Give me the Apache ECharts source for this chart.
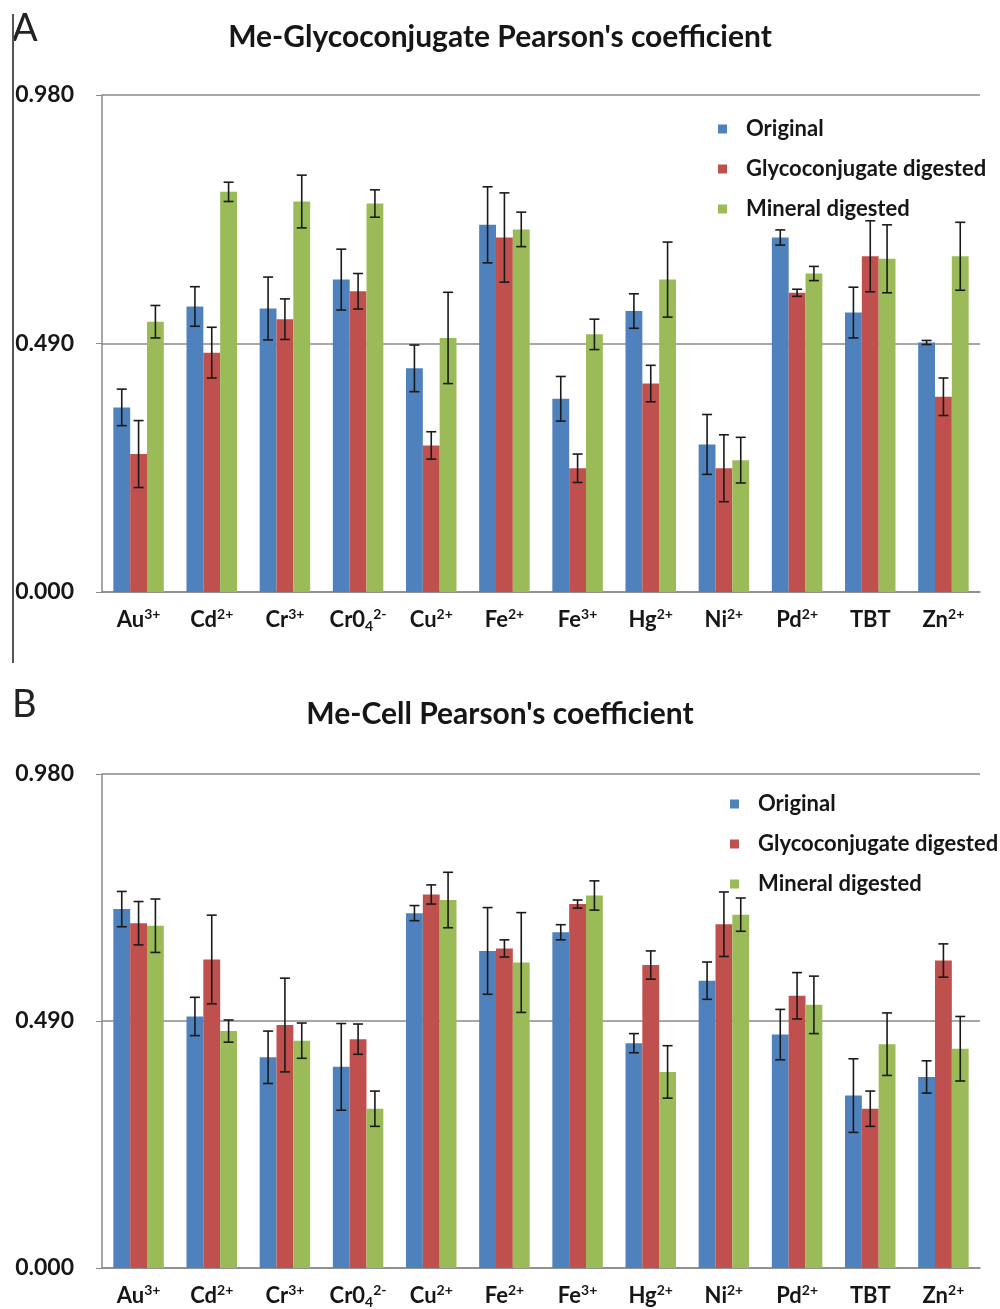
<!DOCTYPE html>
<html>
<head>
<meta charset="utf-8">
<script src="https://cdn.jsdelivr.net/npm/echarts@6/dist/echarts.min.js"></script>
<style>
  html, body { margin: 0; padding: 0; background: #fff; }
  #chart { width: 1000px; height: 1309px; }
</style>
</head>
<body>
<div id="chart"></div>
<script>
// base_sub^sup
const categories = ['Au^3+', 'Cd^2+', 'Cr^3+', 'Cr0_4^2-', 'Cu^2+', 'Fe^2+', 'Fe^3+', 'Hg^2+', 'Ni^2+', 'Pd^2+', 'TBT', 'Zn^2+'];
const seriesNames = ['Original', 'Glycoconjugate digested', 'Mineral digested'];
const yTicks = [0, 0.49, 0.98];

// panel A: Me-Glycoconjugate
const origA = [0.364, 0.563, 0.559, 0.616, 0.441, 0.724, 0.381, 0.554, 0.291, 0.699, 0.551, 0.492];
const origAErr = [0.036, 0.039, 0.062, 0.060, 0.046, 0.075, 0.044, 0.034, 0.059, 0.015, 0.050, 0.004];
const glycoA = [0.272, 0.472, 0.538, 0.593, 0.289, 0.699, 0.244, 0.411, 0.244, 0.590, 0.662, 0.385];
const glycoAErr = [0.066, 0.050, 0.040, 0.035, 0.027, 0.088, 0.028, 0.036, 0.066, 0.007, 0.070, 0.037];
const minA = [0.533, 0.789, 0.770, 0.766, 0.501, 0.715, 0.508, 0.616, 0.260, 0.628, 0.657, 0.662];
const minAErr = [0.032, 0.019, 0.052, 0.027, 0.090, 0.034, 0.030, 0.074, 0.045, 0.014, 0.067, 0.067];

// panel B: Me-Cell
const origB = [0.712, 0.499, 0.418, 0.399, 0.704, 0.629, 0.666, 0.446, 0.570, 0.463, 0.342, 0.379];
const origBErr = [0.035, 0.038, 0.052, 0.086, 0.015, 0.086, 0.015, 0.019, 0.037, 0.050, 0.073, 0.032];
const glycoB = [0.684, 0.612, 0.482, 0.454, 0.741, 0.634, 0.722, 0.601, 0.682, 0.540, 0.316, 0.610];
const glycoBErr = [0.043, 0.088, 0.093, 0.030, 0.019, 0.017, 0.008, 0.028, 0.064, 0.046, 0.035, 0.033];
const minB = [0.679, 0.470, 0.451, 0.316, 0.730, 0.606, 0.739, 0.389, 0.701, 0.522, 0.444, 0.435];
const minBErr = [0.053, 0.022, 0.035, 0.035, 0.055, 0.099, 0.029, 0.052, 0.033, 0.057, 0.062, 0.064];

const colors = ['#4F81BD', '#C0504D', '#9BBB59'];
const FONT = 'Lato';
const INK = '#161616';
const GAP = 0.31;

const chart = echarts.init(document.getElementById('chart'));

function catLabel(s) {
    const m = s.match(/^([^_^]+)(?:_([^^]+))?(?:\^(.+))?$/);
    let out = '{b|' + m[1] + '}';
    if (m[2]) out += '{sub|' + m[2] + '}';
    if (m[3]) out += '{sup|' + m[3] + '}';
    return out;
}

function xAxisFor(gi) {
    return {
        type: 'category', gridIndex: gi, data: categories,
        axisLine: { lineStyle: { color: '#8a8a8a', width: 1.5 } },
        axisTick: { show: false },
        axisLabel: {
            margin: 15, interval: 0,
            formatter: catLabel,
            rich: {
                b: { fontFamily: FONT, fontWeight: 'bold', fontSize: 22, color: INK, lineHeight: 26 },
                sup: { fontFamily: FONT, fontWeight: 'bold', fontSize: 14, color: INK, lineHeight: 20, verticalAlign: 'top' },
                sub: { fontFamily: FONT, fontWeight: 'bold', fontSize: 14, color: INK, lineHeight: 14, verticalAlign: 'bottom' }
            }
        }
    };
}

function yAxisFor(gi) {
    return {
        type: 'value', gridIndex: gi, min: yTicks[0], max: yTicks[2], interval: yTicks[1],
        axisLine: { show: true, lineStyle: { color: '#8a8a8a', width: 1.5 } },
        axisTick: { show: true, length: 6, lineStyle: { color: '#8a8a8a' } },
        splitLine: { lineStyle: { color: '#8a8a8a', width: 1.5 } },
        axisLabel: {
            margin: 28, fontFamily: FONT, fontWeight: 'bold', fontSize: 23, color: INK,
            formatter: v => v.toFixed(3)
        }
    };
}

function bars(gi, values) {
    return values.map((vals, k) => ({
        name: seriesNames[k], type: 'bar', xAxisIndex: gi, yAxisIndex: gi,
        data: vals, barGap: '0%', barCategoryGap: (GAP * 100) + '%',
        itemStyle: { color: colors[k] }
    }));
}

function errorBars(gi, values, errs) {
    const data = [];
    values.forEach((vals, k) => {
        vals.forEach((v, i) => data.push([i, v, errs[k][i], k]));
    });
    return {
        type: 'custom', xAxisIndex: gi, yAxisIndex: gi, z: 10, silent: true,
        data: data,
        renderItem: function (params, api) {
            const i = api.value(0), v = api.value(1), e = api.value(2), k = api.value(3);
            const band = api.size([1, 0])[0];
            const bw = band * (1 - GAP) / 3;
            const x = api.coord([i, v])[0] + (k - 1) * bw;
            const top = api.coord([i, v + e])[1];
            const bot = api.coord([i, v - e])[1];
            const cap = 5;
            const style = { stroke: '#1a1a1a', lineWidth: 1.6 };
            return {
                type: 'group',
                children: [
                    { type: 'line', shape: { x1: x, y1: top, x2: x, y2: bot }, style: style },
                    { type: 'line', shape: { x1: x - cap, y1: top, x2: x + cap, y2: top }, style: style },
                    { type: 'line', shape: { x1: x - cap, y1: bot, x2: x + cap, y2: bot }, style: style }
                ]
            };
        }
    };
}

function legendAt(left, top) {
    return {
        data: seriesNames, orient: 'vertical', left: left, top: top,
        icon: 'rect', itemWidth: 9, itemHeight: 9, itemGap: 18,
        textStyle: { fontFamily: FONT, fontWeight: 'bold', fontSize: 22, color: INK, padding: [0, 0, 0, 14] }
    };
}

const valsA = [origA, glycoA, minA], errsA = [origAErr, glycoAErr, minAErr];
const valsB = [origB, glycoB, minB], errsB = [origBErr, glycoBErr, minBErr];

chart.setOption({
    animation: false,
    title: [
        { text: "Me-Glycoconjugate Pearson's coefficient", left: 'center', top: 17,
          textStyle: { fontFamily: FONT, fontWeight: 'bold', fontSize: 30, color: INK } },
        { text: "Me-Cell Pearson's coefficient", left: 'center', top: 694,
          textStyle: { fontFamily: FONT, fontWeight: 'bold', fontSize: 30, color: INK } }
    ],
    graphic: [
        { type: 'text', left: 12, top: 10, style: { text: 'A', font: '38px Lato', fill: '#222' } },
        { type: 'text', left: 12, top: 686, style: { text: 'B', font: '38px Lato', fill: '#222' } },
        { type: 'line', shape: { x1: 13, y1: 14, x2: 13, y2: 663 }, style: { stroke: '#555', lineWidth: 2 } }
    ],
    legend: [legendAt(713, 113), legendAt(725, 788)],
    grid: [
        { left: 102, right: 20, top: 95, height: 497 },
        { left: 102, right: 20, top: 774, height: 498 }
    ],
    xAxis: [xAxisFor(0), xAxisFor(1)],
    yAxis: [yAxisFor(0), yAxisFor(1)],
    series: [].concat(
        bars(0, valsA), [errorBars(0, valsA, errsA)],
        bars(1, valsB), [errorBars(1, valsB, errsB)]
    )
});
</script>
</body>
</html>
